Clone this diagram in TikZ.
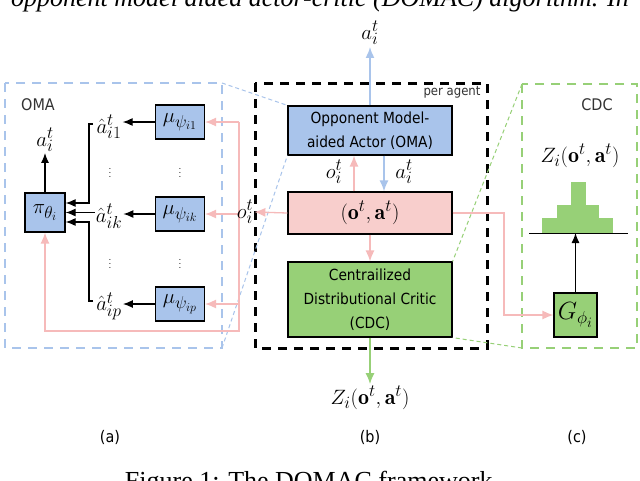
\documentclass[tikz,border=0pt]{standalone}
\usepackage{fontspec}
\setsansfont{DejaVu Sans Condensed}
\newfontfamily\capfont{Liberation Serif}
\usetikzlibrary{arrows.meta}
\DeclareMathSizes{22}{22}{16}{12.5}
\DeclareMathSizes{24}{24}{17}{13.5}
\definecolor{bfill}{HTML}{A9C4EB}
\definecolor{pfill}{HTML}{F8CECC}
\definecolor{gfill}{HTML}{97D077}
\definecolor{pline}{HTML}{F6BABA}
\definecolor{bline}{HTML}{A9C4EB}
\definecolor{gline}{HTML}{97D077}
\definecolor{txtgray}{HTML}{333333}
\tikzset{
  box/.style={draw=black, line width=1.2pt, align=center, inner sep=0pt, font=\sffamily\fontsize{15.3}{24}\selectfont},
  bbox/.style={box, fill=bfill},
  pbox/.style={box, fill=pfill},
  gbox/.style={box, fill=gfill},
  mathfont/.style={font=\fontsize{22}{24}\selectfont},
  mlab/.style={inner sep=1pt, mathfont},
  slab/.style={inner sep=0pt, font=\sffamily\fontsize{16}{18}\selectfont, text=txtgray},
  blkarrow/.style={draw=black, line width=1.2pt, -{Latex[length=10pt,width=8pt]}},
  blkline/.style={draw=black, line width=1.2pt},
  pinkarrow/.style={draw=pline, line width=1.3pt, -{Latex[length=11pt,width=9pt]}},
  bluearrow/.style={draw=bline, line width=1.6pt, -{Latex[length=11pt,width=9pt]}},
  greenarrow/.style={draw=gline, line width=1.6pt, -{Latex[length=11pt,width=9pt]}},
  blackdash/.style={draw=black, line width=3pt, dash pattern=on 9pt off 7pt},
  bluedash/.style={draw=bline, line width=2.5pt, dash pattern=on 9pt off 7pt},
  greendash/.style={draw=gline, line width=2.5pt, dash pattern=on 9pt off 7pt},
  bluethin/.style={draw=bline, line width=1pt, dash pattern=on 4pt off 3pt},
  greenthin/.style={draw=gline, line width=1pt, dash pattern=on 4pt off 3pt},
}
\begin{document}
\begin{tikzpicture}[x=1pt,y=-1pt]
\useasboundingbox (0,0) rectangle (640,480);
\clip (0,0) rectangle (640,480);
\fill[white] (0,0) rectangle (640,480);

% clipped surrounding text of the page
\node[anchor=base, inner sep=0pt, font=\capfont\itshape\fontsize{26}{28}\selectfont] (toptext) at (320,6) {opponent model aided actor-critic (DOMAC) algorithm. In};
\node[anchor=base, inner sep=0pt, font=\capfont\fontsize{26}{28}\selectfont] (caption) at (312,489) {Figure 1: The DOMAC framework.};

% ---------- (b) per agent ----------
\node[bbox, minimum width=164pt, minimum height=49pt] (oma) at (370,130.5) {Opponent Model-\\aided Actor (OMA)};
\node[pbox, minimum width=164pt, minimum height=42pt, mathfont] (pink) at (370,213) {$(\mathbf{o}^t,\mathbf{a}^t)$};
\node[gbox, minimum width=164pt, minimum height=75pt] (cdc) at (370,299.5) {Centrailized\\Distributional Critic\\(CDC)};
\draw[blackdash] (255,83) rectangle (487,348);
\node[inner sep=0pt, font=\sffamily\fontsize{13}{15}\selectfont, text=txtgray] (peragent) at (452,92) {per agent};

\node[mlab, inner sep=2pt] (atop) at (370,33) {$a_i^t$};
\draw[bluearrow] (oma.north) -- (atop.south);
\node[mlab, inner sep=2pt] (zbot) at (370,398) {$Z_i(\mathbf{o}^t,\mathbf{a}^t)$};
\draw[greenarrow] (cdc.south) -- (zbot.north);

\coordinate (xo) at (354,0);
\coordinate (xa) at (384,0);
\draw[pinkarrow] (pink.north -| xo) -- (oma.south -| xo);
\draw[bluearrow] (oma.south -| xa) -- (pink.north -| xa);
\node[mlab] (olabm) at (334,172) {$o_i^t$};
\node[mlab] (alabm) at (404,172) {$a_i^t$};
\draw[pinkarrow] (pink.south) -- (cdc.north);

% ---------- (a) OMA ----------
\draw[bluedash] (5,83) rectangle (222,348);
\coordinate (bc1) at (222,83);
\coordinate (bc2) at (222,348);
\draw[bluethin] (bc1) -- (oma.north west);
\draw[bluethin] (bc2) -- (oma.south west);
\node[slab] (omalab) at (38,105) {OMA};

\node[bbox, minimum width=40pt, minimum height=39pt, mathfont] (pi) at (45,212.5) {$\pi_{\theta_i}$};
\node[bbox, minimum width=49pt, minimum height=34pt, mathfont] (mu1) at (180,122) {$\mu_{\psi_{i1}}$};
\node[bbox, minimum width=49pt, minimum height=34pt, mathfont] (muk) at (180,214) {$\mu_{\psi_{ik}}$};
\node[bbox, minimum width=49pt, minimum height=34pt, mathfont] (mup) at (180,304) {$\mu_{\psi_{ip}}$};

\node[mlab] (ah1) at (109,127) {$\hat{a}_{i1}^t$};
\node[mlab] (ahk) at (109,216) {$\hat{a}_{ik}^t$};
\node[mlab] (ahp) at (109,306) {$\hat{a}_{ip}^t$};
\draw[blkarrow] (mu1.west) -- (ah1.east |- mu1.west);
\draw[blkarrow] (muk.west) -- (ahk.east |- muk.west);
\draw[blkarrow] (mup.west) -- (ahp.east |- mup.west);

\node[mlab] (api) at (45,140) {$a_i^t$};
\draw[blkarrow] (pi.north) -- (api.south);

\coordinate (jx) at (89,0);
\coordinate (j1) at (93,124);
\coordinate (jp) at (93,301);
\draw[blkarrow] (j1) -- (j1 -| jx) |- ([yshift=9.5pt]pi.east);
\draw[blkarrow] (ahk.west |- pi.east) -- (pi.east);
\draw[blkarrow] (jp) -- (jp -| jx) |- ([yshift=-9.5pt]pi.east);

\node[inner sep=0pt, font=\fontsize{10}{10}\selectfont] (d1) at (110,170) {$\vdots$};
\node[inner sep=0pt, font=\fontsize{10}{10}\selectfont] (d2) at (180,170) {$\vdots$};
\node[inner sep=0pt, font=\fontsize{10}{10}\selectfont] (d3) at (110,261) {$\vdots$};
\node[inner sep=0pt, font=\fontsize{10}{10}\selectfont] (d4) at (180,261) {$\vdots$};

\coordinate (pv) at (239,0);
\coordinate (pb) at (239,331);
\draw[pinkarrow] (mu1.east -| pv) -- (mu1.east);
\draw[pinkarrow] (muk.east -| pv) -- (muk.east);
\draw[pinkarrow] (mup.east -| pv) -- (mup.east);
\draw[pinkarrow] (mu1.east -| pv) -- (pb) -| (pi.south);

\node[mlab] (olab) at (245,212) {$o_i^t$};
\draw[pinkarrow] (pink.west) -- (olab.east);

% ---------- (c) CDC ----------
\draw[greendash] (522,84) rectangle (637,348);
\coordinate (gc1) at (522,84);
\coordinate (gc2) at (522,348);
\draw[greenthin] (gc1) -- (cdc.north east);
\draw[greenthin] (gc2) -- (cdc.south east);
\node[slab] (cdclab) at (597,105) {CDC};
\node[mlab] (zlab) at (580,156) {$Z_i(\mathbf{o}^t,\mathbf{a}^t)$};

\fill[gfill] (542,218) rectangle (613,233);
\fill[gfill] (557,205) rectangle (599,233);
\fill[gfill] (571,182) rectangle (586,233);
\coordinate (hl) at (529,233);
\coordinate (hr) at (628,233);
\draw[black, line width=1pt] (hl) -- (hr);

\node[gbox, minimum width=43pt, minimum height=44pt, font=\fontsize{24}{26}\selectfont] (G) at (575.5,315) {$G_{\phi_i}$};
\draw[blkarrow] (G.north) -- (G.north |- hl);

\coordinate (rx) at (504,0);
\draw[pinkarrow] (pink.east) -- (pink.east -| rx) |- (G.west);

% ---------- sub-captions ----------
\node[slab, text=black] (la) at (110,437) {(a)};
\node[slab, text=black] (lb) at (370,437) {(b)};
\node[slab, text=black] (lc) at (577,437) {(c)};
\end{tikzpicture}
\end{document}
